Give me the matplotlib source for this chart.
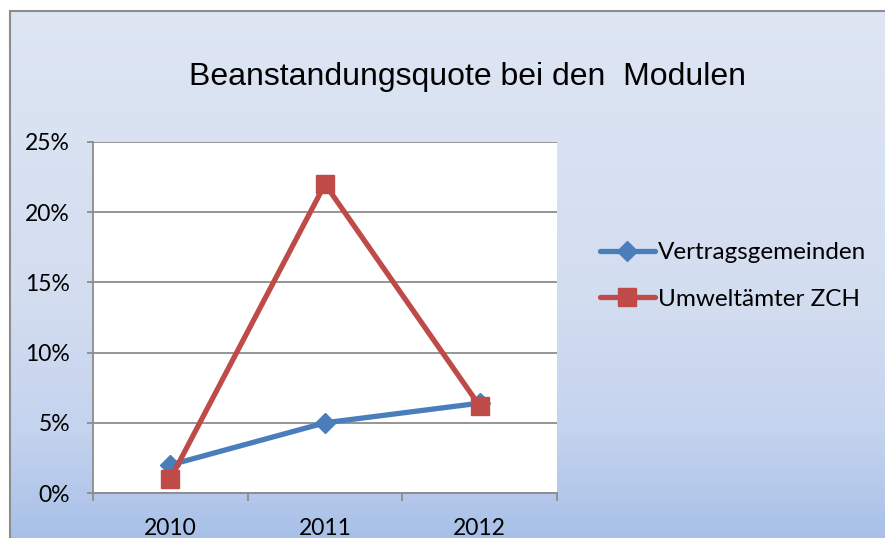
import numpy as np
import matplotlib.pyplot as plt
from matplotlib.ticker import FixedLocator, FuncFormatter
from matplotlib.colors import LinearSegmentedColormap

years = ["2010", "2011", "2012"]
vertragsgemeinden = [2.0, 5.0, 6.4]
umweltaemter = [1.0, 22.0, 6.2]
series_names = ["Vertragsgemeinden", "Umweltämter ZCH"]
title = "Beanstandungsquote bei den  Modulen"

W, H = 885, 538
fig = plt.figure(figsize=(W / 100, H / 100), dpi=100)
fig.patch.set_facecolor("white")

# chart area background with vertical gradient
bg = fig.add_axes([10 / W, 0, 1 - 10 / W, 1 - 11 / H])
cmap = LinearSegmentedColormap.from_list(
    "bg", [(0, "#dee6f4"), (0.55, "#d3ddf0"), (0.8, "#c4d3ee"), (1, "#a8c0e8")])
grad = np.linspace(0, 1, 256).reshape(-1, 1)
bg.imshow(grad, aspect="auto", cmap=cmap, extent=[0, 1, 0, 1], origin="upper")
bg.set_xticks([])
bg.set_yticks([])
for s in ["right", "bottom"]:
    bg.spines[s].set_visible(False)
for s in ["left", "top"]:
    bg.spines[s].set_color("#8c8c8c")
    bg.spines[s].set_linewidth(1.5)

ax = fig.add_axes([93 / W, 45 / H, 464 / W, 351 / H])
ax.set_facecolor("white")
x = np.arange(len(years))
ax.plot(x, vertragsgemeinden, color="#4a7ebb", lw=3.8, marker="D",
        markersize=10, label=series_names[0], solid_capstyle="round")
ax.plot(x, umweltaemter, color="#be4b48", lw=3.8, marker="s",
        markersize=12.5, label=series_names[1], solid_capstyle="round")

ax.set_xlim(-0.5, 2.5)
ax.set_ylim(0, 25)
ax.set_yticks([0, 5, 10, 15, 20, 25])
ax.yaxis.set_major_formatter(FuncFormatter(lambda v, p: "%d%%" % v))
ax.yaxis.grid(True, color="#8c8c8c", lw=1.3)
ax.set_axisbelow(True)

ax.set_xticks(x)
ax.set_xticklabels(years)
ax.xaxis.set_minor_locator(FixedLocator([-0.5, 0.5, 1.5, 2.5]))
ax.tick_params(axis="x", which="major", length=0, pad=18)
ax.tick_params(axis="x", which="minor", length=5.5, width=1.3, color="#8c8c8c")
ax.tick_params(axis="y", length=4.5, width=1.3, color="#8c8c8c", pad=12)
for lbl in ax.get_xticklabels() + ax.get_yticklabels():
    lbl.set_fontfamily("Lato")
    lbl.set_fontsize(16.5)

for s in ["top", "right"]:
    ax.spines[s].set_visible(False)
for s in ["left", "bottom"]:
    ax.spines[s].set_color("#8c8c8c")
    ax.spines[s].set_linewidth(1.3)

fig.text(467 / W, 1 - 77 / H, title, ha="center", va="center",
         fontsize=23, family="Liberation Sans")

fig.legend(loc="center left", bbox_to_anchor=(578 / W, 1 - 276 / H),
           frameon=False, prop={"family": "Lato", "size": 17.5},
           handlelength=2.25, handletextpad=0.15, labelspacing=1.05)

fig.savefig("out.png", dpi=100)
